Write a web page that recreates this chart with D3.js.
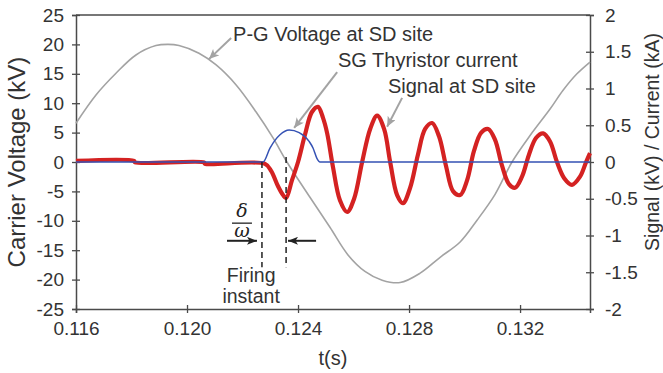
<!DOCTYPE html>
<html>
<head>
<meta charset="utf-8">
<script src="https://cdn.jsdelivr.net/npm/d3@7"></script>
<style>
  html, body { margin: 0; padding: 0; background: #fff; }
  svg { display: block; font-family: 'Liberation Sans', Arial, sans-serif; }
</style>
</head>
<body>
<div id="chart"></div>
<script>
const WIDTH = 663
const HEIGHT = 373
const MARGIN = { top: 15, right: 73, bottom: 64, left: 76 }

// time axis (s)
const X_DOMAIN = [0.116, 0.13452]
const X_TICKS = [0.116, 0.120, 0.124, 0.128, 0.132]
const LEFT_TICKS = [25, 20, 15, 10, 5, 0, -5, -10, -15, -20, -25]
const RIGHT_TICKS = [2, 1.5, 1, 0.5, 0, -0.5, -1, -1.5, -2]

// P-G voltage at SD site (kV, left axis)
const pgTime = [0.11600, 0.11672, 0.11744, 0.11816, 0.11888, 0.11932, 0.11971, 0.12043, 0.12105, 0.12177,
  0.12249, 0.12310, 0.12360, 0.12443, 0.12515, 0.12580, 0.12641, 0.12703, 0.12768, 0.12840,
  0.12912, 0.12984, 0.13045, 0.13110, 0.13171, 0.13236, 0.13308, 0.13355, 0.13405, 0.13452]
const pgVolt = [6.6, 11.4, 15.1, 18.2, 19.8, 20.0, 19.8, 18.5, 16.5, 13.1,
  8.5, 4.1, 0.0, -6.0, -11.1, -15.8, -18.6, -20.1, -20.5, -18.9,
  -16.2, -13.6, -9.9, -5.5, 0.0, 4.5, 9.0, 12.2, 15.0, 17.0]

// SG thyristor current (kA, right axis)
const curTime = [0.11600, 0.12274, 0.12299, 0.12335, 0.12368, 0.12404, 0.12440, 0.12454, 0.12468, 0.12479, 0.13452]
const curAmp = [0, 0, 0.19, 0.37, 0.435, 0.40, 0.28, 0.19, 0.05, 0, 0]

// signal at SD site (kV, right axis)
const sigTime = [0.11600, 0.11809, 0.11813, 0.12061, 0.12065, 0.12281, 0.12303, 0.12328, 0.12346, 0.12357,
  0.12378, 0.12400, 0.12425, 0.12450, 0.12472, 0.12490, 0.12505, 0.12526, 0.12551, 0.12577,
  0.12602, 0.12631, 0.12660, 0.12685, 0.12710, 0.12732, 0.12757, 0.12778, 0.12804, 0.12832,
  0.12858, 0.12883, 0.12908, 0.12933, 0.12959, 0.12984, 0.13009, 0.13034, 0.13060, 0.13085,
  0.13110, 0.13135, 0.13160, 0.13182, 0.13207, 0.13232, 0.13258, 0.13283, 0.13308, 0.13333,
  0.13359, 0.13387, 0.13416, 0.13438, 0.13452]
const sigVolt = [0.015, 0.015, -0.005, -0.005, -0.025, -0.025, -0.12, -0.33, -0.45, -0.49,
  -0.25, 0.0, 0.37, 0.68, 0.75, 0.6, 0.39, -0.07, -0.52, -0.68,
  -0.5, 0.0, 0.45, 0.63, 0.45, 0.0, -0.45, -0.56, -0.35, 0.1,
  0.45, 0.53, 0.35, -0.05, -0.4, -0.45, -0.25, 0.15, 0.4, 0.45,
  0.3, -0.05, -0.3, -0.35, -0.2, 0.1, 0.33, 0.39, 0.28, 0.0,
  -0.22, -0.31, -0.2, 0.0, 0.12]

// callouts: [label, text t, text kV, line start t, line start kV, tip t, tip kV]
const callouts = [
  ['P-G Voltage at SD site', 0.12166, 20.6, 0.12159, 21.1, 0.12079, 17.5],
  ['SG Thyristor current', 0.12544, 16.2, 0.12541, 15.3, 0.12386, 5.8],
  ['Signal at SD site', 0.12724, 11.7, 0.12775, 10.9, 0.12721, 6.0],
]

// firing-instant markers (t, kV from, kV to)
const firingLines = [[0.12270, 0, -17.9], [0.12357, 0.85, -17.9]]
// delta/omega arrows (from t, to t) at kV level
const gapArrows = [[0.12144, 0.12252], [0.12465, 0.12364]]
const GAP_ARROW_KV = -13.4

const COLORS = {
  axis: '#4a4a4a',
  text: '#333333',
  pg: '#a3a3a3',
  current: '#3552b4',
  signal: '#d42222',
}

const innerW = WIDTH - MARGIN.left - MARGIN.right
const innerH = HEIGHT - MARGIN.top - MARGIN.bottom

const svg = d3.select('#chart').append('svg')
  .attr('width', WIDTH).attr('height', HEIGHT)

const defs = svg.append('defs')
function marker(id, color, len, half) {
  defs.append('marker')
    .attr('id', id)
    .attr('markerUnits', 'userSpaceOnUse')
    .attr('markerWidth', len).attr('markerHeight', half * 2)
    .attr('refX', len).attr('refY', half)
    .attr('orient', 'auto')
    .append('path')
    .attr('d', `M0,0L${len},${half}L0,${half * 2}L${len * 0.25},${half}Z`)
    .attr('fill', color)
}
marker('arrowGray', COLORS.pg, 10, 4.5)
marker('arrowBlack', '#222', 10, 4)

const g = svg.append('g').attr('transform', `translate(${MARGIN.left},${MARGIN.top})`)

const x = d3.scaleLinear().domain(X_DOMAIN).range([0, innerW])
const yL = d3.scaleLinear().domain([-25, 25]).range([innerH, 0])
const yR = d3.scaleLinear().domain([-2, 2]).range([innerH, 0])

// axes
const fontTick = '19px'
const xAxis = g.append('g').attr('transform', `translate(0,${innerH})`)
  .call(d3.axisBottom(x).tickValues(X_TICKS).tickFormat(d3.format('.3f')).tickSizeOuter(0).tickSize(4).tickPadding(9))
xAxis.selectAll('.tick line').attr('y1', -4).attr('y2', 4)

const leftAxis = g.append('g')
  .call(d3.axisLeft(yL).tickValues(LEFT_TICKS).tickFormat(d => String(d)).tickSizeOuter(0).tickSize(4).tickPadding(8))
leftAxis.selectAll('.tick line').attr('x1', -4).attr('x2', 4)

const rightAxis = g.append('g').attr('transform', `translate(${innerW},0)`)
  .call(d3.axisRight(yR).tickValues(RIGHT_TICKS).tickFormat(d => String(d)).tickSizeOuter(0).tickSize(4).tickPadding(11))
rightAxis.selectAll('.tick line').attr('x1', -4).attr('x2', 4)

for (const ax of [xAxis, leftAxis, rightAxis]) {
  ax.select('.domain').attr('stroke', COLORS.axis).attr('stroke-width', 1.5)
  ax.selectAll('.tick line').attr('stroke', COLORS.axis).attr('stroke-width', 1.3)
  ax.selectAll('.tick text')
    .attr('fill', COLORS.text)
    .style('font-size', fontTick)
    .style('font-family', "'Liberation Sans', Arial, sans-serif")
}

// top border
g.append('line')
  .attr('x1', 0).attr('x2', innerW).attr('y1', 0).attr('y2', 0)
  .attr('stroke', COLORS.axis).attr('stroke-width', 1.5)

// axis titles
svg.append('text')
  .attr('transform', `translate(${MARGIN.left + innerW / 2},365)`)
  .attr('text-anchor', 'middle')
  .attr('fill', COLORS.text)
  .style('font-size', '20px')
  .text('t(s)')

svg.append('text')
  .attr('transform', `translate(25,${MARGIN.top + innerH / 2}) rotate(-90)`)
  .attr('text-anchor', 'middle')
  .attr('fill', COLORS.text)
  .style('font-size', '24px')
  .text('Carrier Voltage (kV)')

svg.append('text')
  .attr('transform', `translate(659,142) rotate(-90)`)
  .attr('text-anchor', 'middle')
  .attr('fill', COLORS.text)
  .style('font-size', '19.5px')
  .text('Signal (kV) / Current (kA)')

// series
const plot = g.append('g')

const pgData = pgTime.map((t, i) => [t, pgVolt[i]])
const curData = curTime.map((t, i) => [t, curAmp[i]])
const sigData = sigTime.map((t, i) => [t, sigVolt[i]])

plot.append('path')
  .datum(pgData)
  .attr('fill', 'none')
  .attr('stroke', COLORS.pg)
  .attr('stroke-width', 1.6)
  .attr('d', d3.line().x(d => x(d[0])).y(d => yL(d[1])).curve(d3.curveCatmullRom))

plot.append('path')
  .datum(sigData)
  .attr('fill', 'none')
  .attr('stroke', COLORS.signal)
  .attr('stroke-width', 4.2)
  .attr('stroke-linejoin', 'round')
  .attr('d', d3.line().x(d => x(d[0])).y(d => yR(d[1])).curve(d3.curveCatmullRom))

plot.append('path')
  .datum(curData)
  .attr('fill', 'none')
  .attr('stroke', COLORS.current)
  .attr('stroke-width', 1.5)
  .attr('d', d3.line().x(d => x(d[0])).y(d => yR(d[1])).curve(d3.curveMonotoneX))

// firing instant dashed lines
for (const [t, v0, v1] of firingLines) {
  plot.append('line')
    .attr('x1', x(t)).attr('x2', x(t))
    .attr('y1', yL(v0)).attr('y2', yL(v1))
    .attr('stroke', '#222').attr('stroke-width', 1.5)
    .attr('stroke-dasharray', '6,4')
}

for (const [t0, t1] of gapArrows) {
  plot.append('line')
    .attr('x1', x(t0)).attr('x2', x(t1))
    .attr('y1', yL(GAP_ARROW_KV)).attr('y2', yL(GAP_ARROW_KV))
    .attr('stroke', '#222').attr('stroke-width', 2)
    .attr('marker-end', 'url(#arrowBlack)')
}

// delta / omega
const fracT = 0.12198
plot.append('text')
  .attr('x', x(fracT)).attr('y', yL(-9.35))
  .attr('text-anchor', 'middle')
  .attr('fill', '#222')
  .style('font-family', "'DejaVu Serif', 'Liberation Serif', serif")
  .style('font-style', 'italic')
  .style('font-size', '19px')
  .text('δ')
plot.append('line')
  .attr('x1', x(0.12162)).attr('x2', x(0.12234))
  .attr('y1', yL(-10.4)).attr('y2', yL(-10.4))
  .attr('stroke', '#222').attr('stroke-width', 1.3)
plot.append('text')
  .attr('x', x(fracT)).attr('y', yL(-12.75))
  .attr('text-anchor', 'middle')
  .attr('fill', '#222')
  .style('font-family', "'DejaVu Serif', 'Liberation Serif', serif")
  .style('font-style', 'italic')
  .style('font-size', '19px')
  .text('ω')

for (const [txt, kv] of [['Firing', -20.4], ['instant', -24.0]]) {
  plot.append('text')
    .attr('x', x(0.12231)).attr('y', yL(kv))
    .attr('text-anchor', 'middle')
    .attr('fill', COLORS.text)
    .style('font-size', '19.5px')
    .text(txt)
}

// callouts
for (const [label, tx, vy, ls, lv, tt, tv] of callouts) {
  plot.append('line')
    .attr('x1', x(ls)).attr('y1', yL(lv))
    .attr('x2', x(tt)).attr('y2', yL(tv))
    .attr('stroke', COLORS.pg).attr('stroke-width', 2)
    .attr('marker-end', 'url(#arrowGray)')
  plot.append('text')
    .attr('x', x(tx)).attr('y', yL(vy))
    .attr('fill', COLORS.text)
    .style('font-size', '20px')
    .text(label)
}
</script>
</body>
</html>
